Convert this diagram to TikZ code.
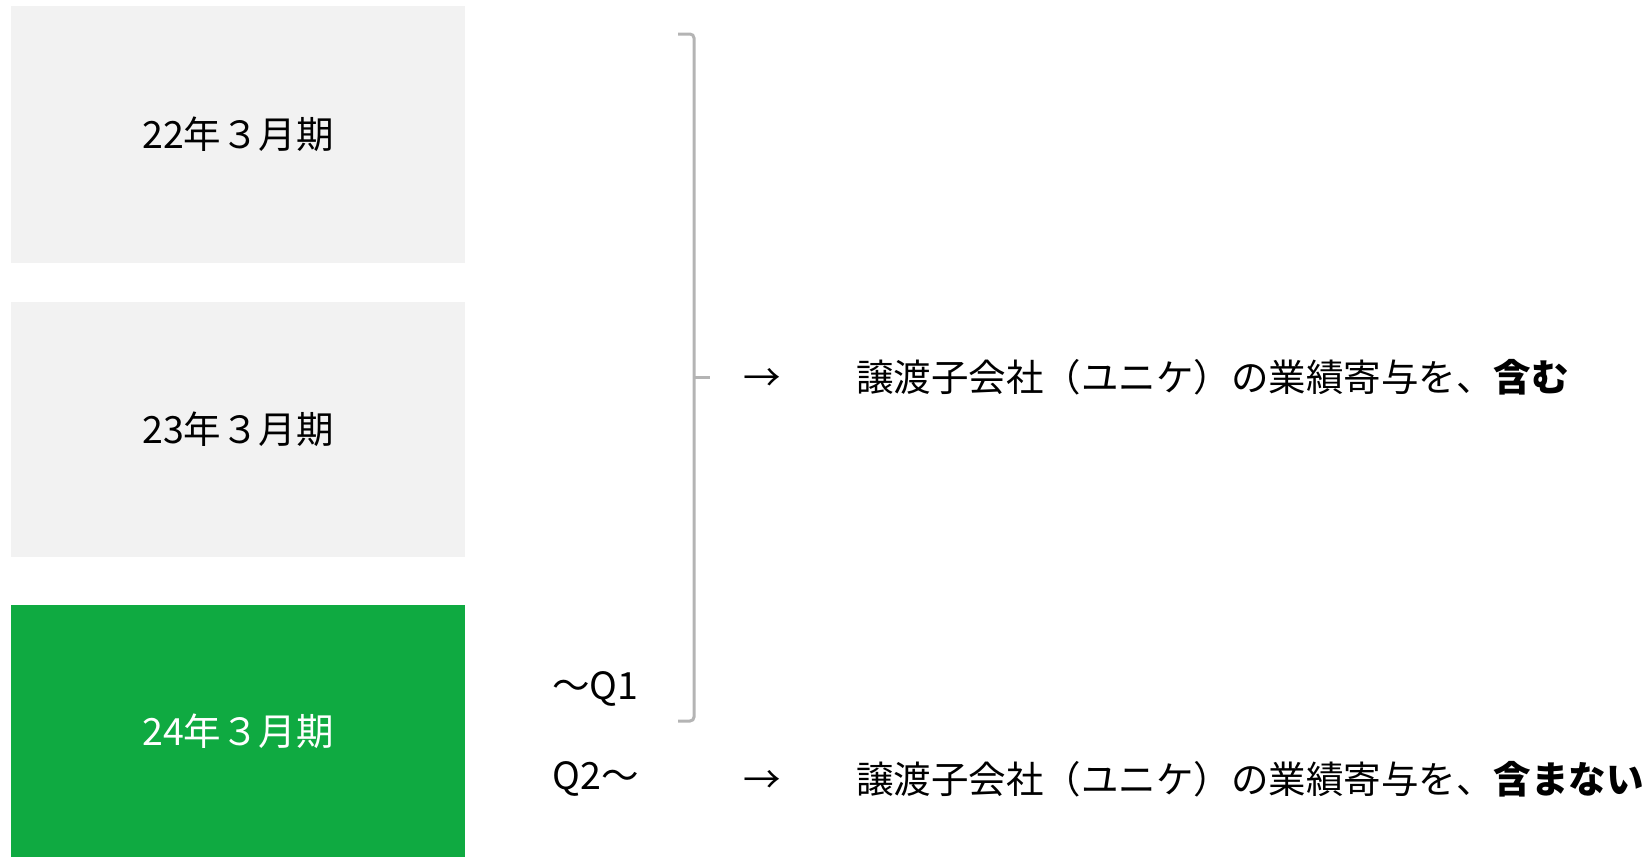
\documentclass[tikz,border=0pt]{standalone}
\usepackage{fontspec}
\setmainfont{Noto Sans CJK JP}
\usetikzlibrary{positioning}
\definecolor{boxgray}{HTML}{F2F2F2}
\definecolor{boxgreen}{HTML}{0FAA41}
\definecolor{bracegray}{HTML}{B4B4B4}

\begin{document}
\begin{tikzpicture}[x=0.5pt, y=-0.5pt,
    period/.style={minimum width=227pt, inner sep=0pt, font=\fontsize{18.75pt}{22pt}\selectfont},
    label/.style={inner sep=0pt, anchor=west, font=\fontsize{18.75pt}{22pt}\selectfont}]

    \useasboundingbox (0,0) rectangle (1647,857);

    % Perioden
    \node[period, fill=boxgray, minimum height=128.5pt] (fy22) at (238,134.5) {22年３月期};
    \node[period, fill=boxgray, minimum height=127.5pt] (fy23) at (238,429.5) {23年３月期};
    \node[period, fill=boxgreen, text=white, minimum height=126pt] (fy24) at (238,731) {24年３月期};

    % Klammer
    \draw[bracegray, line width=1.5pt, rounded corners=2pt] (678,34) -- (694,34) -- (694,721) -- (678,721);
    \draw[bracegray, line width=1.5pt] (694,377) -- (710,377);

    \node[label] (q1) at (552,689) {～Q1};
    \node[label] (q2) at (552,779) {Q2～};

    \node[label] (arrA) at (743,380) {→};
    \node[label] (arrB) at (743,782) {→};

    \node[label] (incl) at (856,377) {譲渡子会社（ユニケ）の業績寄与を、\textbf{含む}};
    \node[label] (excl) at (856,779) {譲渡子会社（ユニケ）の業績寄与を、\textbf{含まない}};
\end{tikzpicture}
\end{document}
